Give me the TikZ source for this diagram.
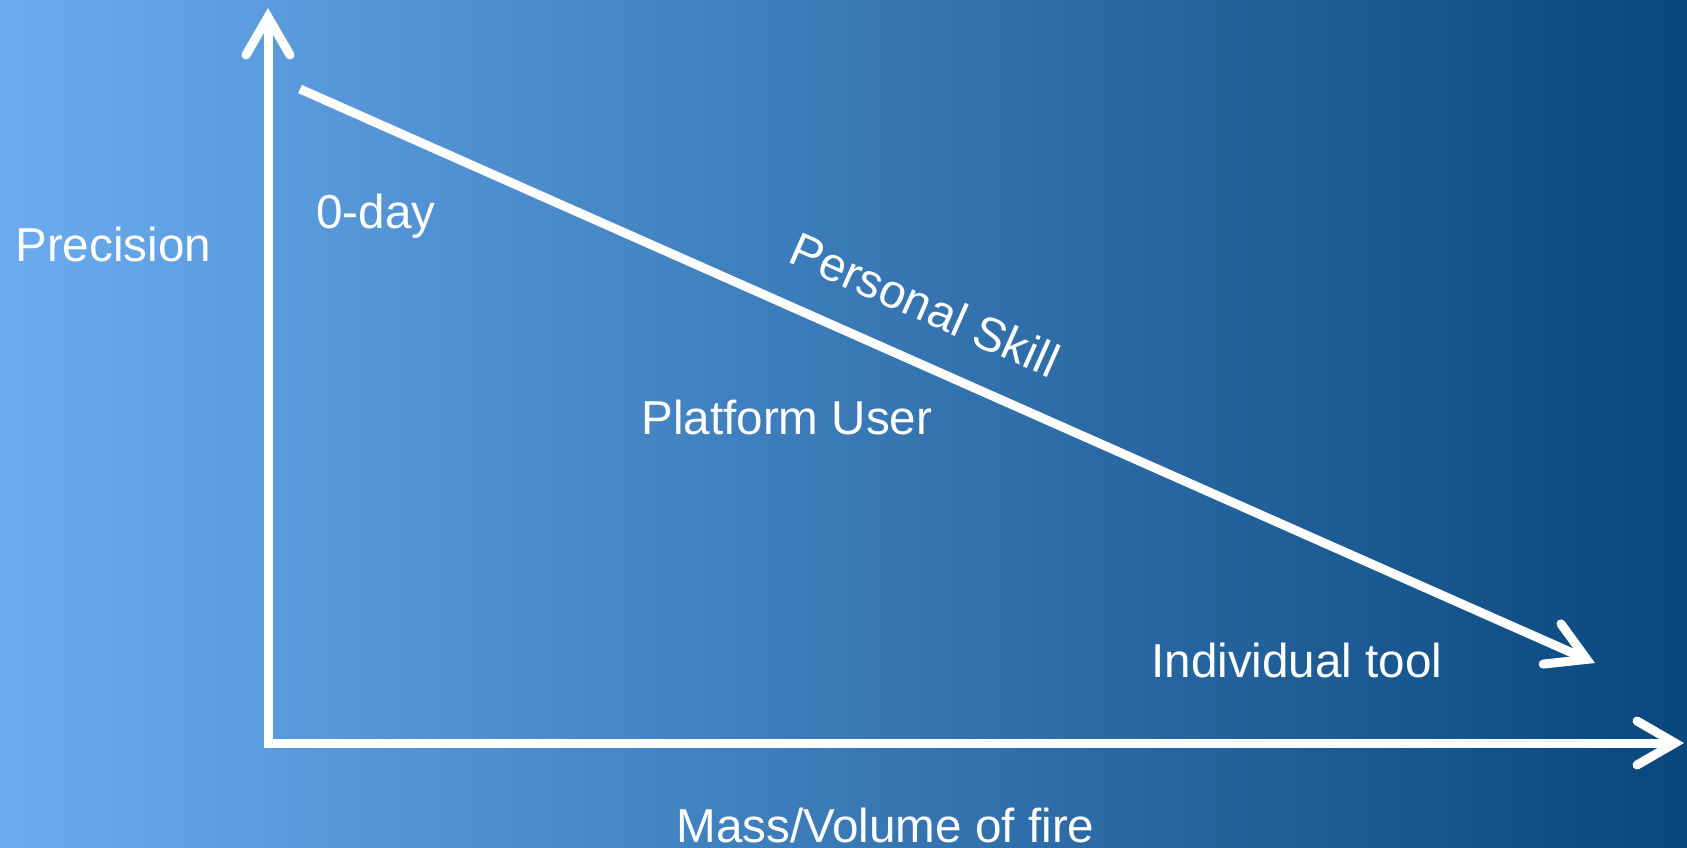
\documentclass[tikz,border=0pt]{standalone}
\usepackage{fontspec}
\setmainfont{Liberation Sans}
\usetikzlibrary{positioning,arrows.meta}

\definecolor{bgleft}{RGB}{107,172,240}
\definecolor{bgright}{RGB}{8,70,124}

\tikzset{barb/.tip={Straight Barb[length=19pt,width=22pt,line cap=round,line join=miter]}}

\begin{document}
\begin{tikzpicture}[x=0.5pt,y=-0.5pt,
  axis/.style={draw=white, line width=4.5pt, line join=miter},
  lbl/.style={text=white, inner sep=0pt, anchor=base west, font=\fontsize{23.8}{28}\selectfont}]
\def\xo{268}
\def\yo{743}
\def\w{1687}
\def\h{847}

\fill[left color=bgleft, right color=bgright] (0,0) rectangle (\w,\h);
\useasboundingbox (0,0) rectangle (\w,\h);

\coordinate (o) at (\xo,\yo);
\coordinate (ytop) at (\xo,8);
\coordinate (xend) at (1684,\yo);
\coordinate (a) at (300,89);
\coordinate (b) at (1595,663);

% axes
\draw[axis, {barb}-{barb}] (ytop) -- (o) -- (xend);
% trend
\draw[axis, -{barb}] (a) -- (b);

\node[lbl] (prec) at (15,261) {Precision};
\node[lbl] (zero) at (316,228) {0-day};
\node[lbl] (plat) at (641,434) {Platform User};
\node[lbl] (indiv) at (1151,677) {Individual tool};
\node[lbl] (mass) at (676,842) {Mass/Volume of fire};
\node[lbl, anchor=base, rotate=-23.9] (skill) at (918,320) {Personal Skill};
\end{tikzpicture}
\end{document}
